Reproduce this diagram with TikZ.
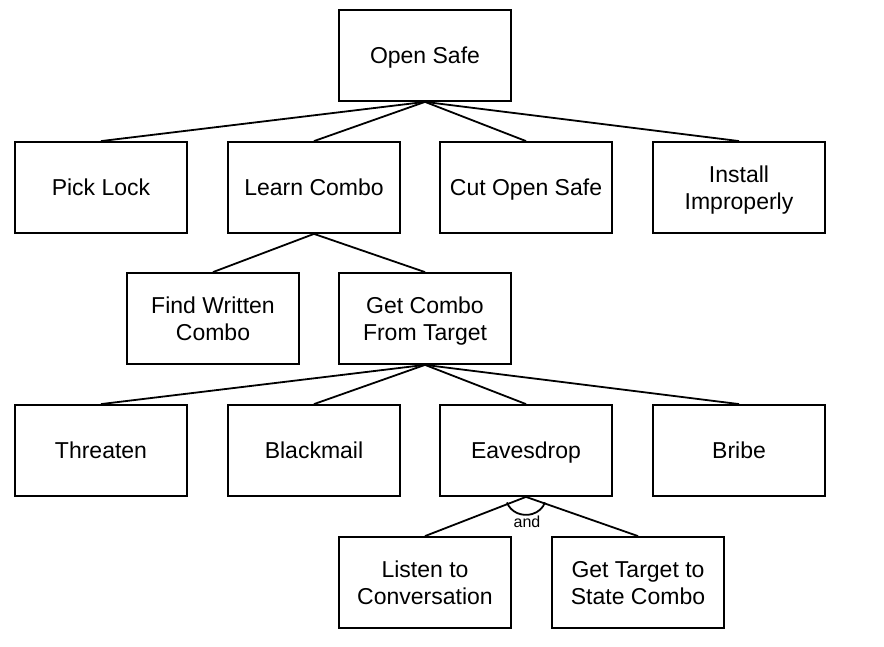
\documentclass[tikz,border=0pt]{standalone}
\usepackage{fontspec}
\setmainfont{Liberation Sans}
\begin{document}
\begin{tikzpicture}[x=1pt,y=1pt,
  box/.style={draw, line width=1.8pt, minimum width=172pt, minimum height=91pt, align=center, inner sep=0pt, font=\fontsize{23}{26.7}\selectfont, text depth=0pt},
  one/.style={box, text height=16.5pt},
  two/.style={box, text height=43.2pt},
  edge/.style={line width=1.8pt}]
\useasboundingbox (0,0) rectangle (884,647);
\node[one] (safe) at (425,591.5) {Open Safe};
\node[one] (pick) at (101,459.5) {Pick Lock};
\node[one] (learn) at (314,459.5) {Learn Combo};
\node[one] (cut) at (526,459.5) {Cut Open Safe};
\node[two] (install) at (739,459.5) {Install\\Improperly};
\node[two] (find) at (213,328.5) {Find Written\\Combo};
\node[two] (get) at (425,328.5) {Get Combo\\From Target};
\node[one] (threat) at (101,196.5) {Threaten};
\node[one] (black) at (314,196.5) {Blackmail};
\node[one] (eaves) at (526,196.5) {Eavesdrop};
\node[one] (bribe) at (739,196.5) {Bribe};
\node[two] (listen) at (425,64.5) {Listen to\\Conversation};
\node[two] (state) at (638,64.5) {Get Target to\\State Combo};
\foreach \c in {pick,learn,cut,install} \draw[edge] (safe.south) -- (\c.north);
\foreach \c in {find,get} \draw[edge] (learn.south) -- (\c.north);
\foreach \c in {threat,black,eaves,bribe} \draw[edge] (get.south) -- (\c.north);
\foreach \c in {listen,state} \draw[edge] (eaves.south) -- (\c.north);
\draw[edge] ([shift={(198:20 and 18)}]eaves.south) arc[start angle=198,end angle=342,x radius=20,y radius=18];
\node[font=\fontsize{16}{18}\selectfont] (and) at (527,125) {and};
\end{tikzpicture}
\end{document}
